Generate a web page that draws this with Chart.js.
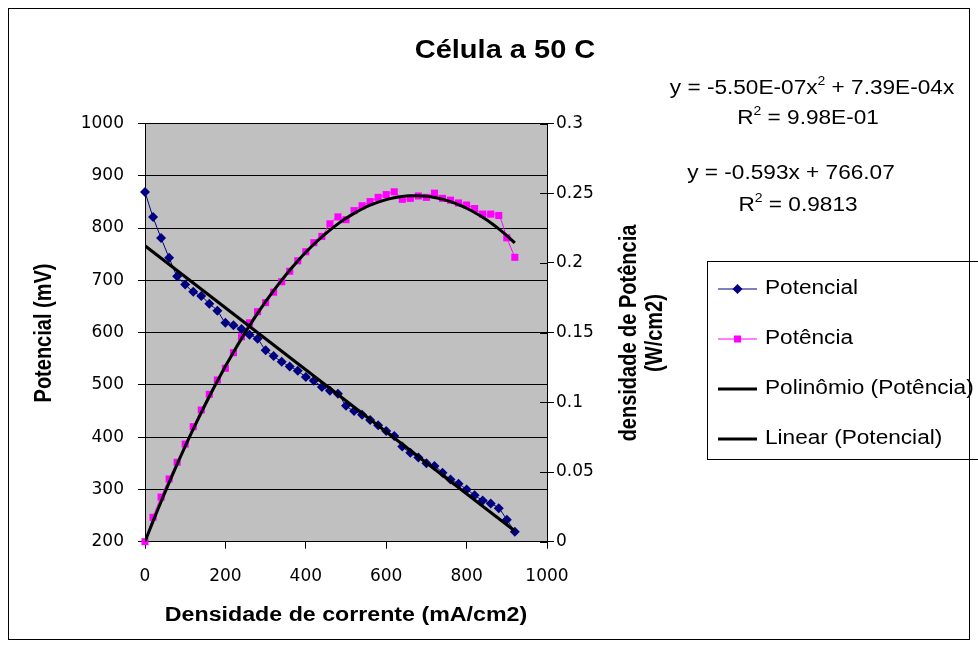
<!DOCTYPE html>
<html>
<head>
<meta charset="utf-8">
<title>Célula a 50 C</title>
<style>
  body { margin: 0; background: #fff; }
  canvas { display: block; }
</style>
<script src="https://cdn.jsdelivr.net/npm/chart.js@4"></script>
</head>
<body>
<canvas id="cellChart" width="978" height="648"></canvas>
<script>
// current density (mA/cm2)
const corrente = [0, 20, 40, 60, 80, 100, 120, 140, 160, 180, 200, 220, 240, 260, 280, 300,
  320, 340, 360, 380, 400, 420, 440, 460, 480, 500, 520, 540, 560, 580, 600, 620, 640, 660,
  680, 700, 720, 740, 760, 780, 800, 820, 840, 860, 880, 900, 920];
// cell potential (mV), left axis
const potencial = [869, 821, 781, 743, 708, 692, 678, 670, 655, 642, 619, 614, 607, 596, 588, 566,
  555, 544, 535, 527, 515, 508, 496, 489, 483, 460, 450, 443, 433, 423, 412, 402, 382, 370,
  361, 350, 345, 332, 319, 311, 300, 289, 279, 273, 264, 242, 219];
// power density (W/cm2), right axis
const potencia = [0, 0.0175, 0.032, 0.045, 0.057, 0.070, 0.0825, 0.0945, 0.1057, 0.116, 0.1244,
  0.1356, 0.147, 0.157, 0.165, 0.1715, 0.179, 0.1865, 0.194, 0.2015, 0.208, 0.2145, 0.219,
  0.228, 0.233, 0.231, 0.2375, 0.241, 0.244, 0.247, 0.249, 0.251, 0.2456, 0.2463, 0.248,
  0.247, 0.250, 0.2463, 0.245, 0.243, 0.2415, 0.239, 0.235, 0.235, 0.234, 0.218, 0.204];

// trendlines, coefficients as printed on the chart
const polyA = -5.50e-7, polyB = 7.39e-4;
const linM = -0.593, linB = 766.07;

const FONT = '"Liberation Sans", Arial, sans-serif';
const SX = 1.16; // source picture is a bit stretched sideways

const pts = (xs, ys) => xs.map((x, i) => ({ x: x, y: ys[i] }));
const polyTrend = corrente.map(x => ({ x: x, y: polyA * x * x + polyB * x }));
const linTrend = [0, corrente[corrente.length - 1]].map(x => ({ x: x, y: linM * x + linB }));

// horizontal text made of runs, [text, superscript?], centred on cx
function runs(ctx, parts, cx, cy, size, bold, align) {
  ctx.save();
  ctx.translate(cx, cy);
  ctx.scale(SX, 1);
  ctx.fillStyle = '#000';
  ctx.textBaseline = 'middle';
  ctx.textAlign = 'left';
  const f = p => (bold ? 'bold ' : '') + (p[1] ? size * 0.62 : size) + 'px ' + FONT;
  let w = 0;
  parts.forEach(p => { ctx.font = f(p); w += ctx.measureText(p[0]).width; });
  let x = align === 'left' ? 0 : -w / 2;
  parts.forEach(p => {
    ctx.font = f(p);
    ctx.fillText(p[0], x, p[1] ? -size * 0.36 : 0);
    x += ctx.measureText(p[0]).width;
  });
  ctx.restore();
}

function vtext(ctx, s, cx, cy, size) {
  ctx.save();
  ctx.translate(cx, cy);
  ctx.rotate(-Math.PI / 2);
  ctx.scale(1, SX);
  ctx.fillStyle = '#000';
  ctx.font = 'bold ' + size + 'px ' + FONT;
  ctx.textAlign = 'center';
  ctx.textBaseline = 'middle';
  ctx.fillText(s, 0, 0);
  ctx.restore();
}

const decor = {
  id: 'decor',
  beforeDraw(chart) {
    const { ctx, chartArea: a } = chart;
    ctx.save();
    ctx.fillStyle = '#fff';
    ctx.fillRect(0, 0, chart.width, chart.height);
    ctx.fillStyle = '#C0C0C0';
    ctx.fillRect(a.left, a.top, a.right - a.left, a.bottom - a.top);
    ctx.restore();
  },
  afterDraw(chart) {
    const { ctx, chartArea: a } = chart;
    ctx.save();
    // outer frame
    ctx.strokeStyle = '#000';
    ctx.lineWidth = 1;
    ctx.strokeRect(8.5, 8.5, 961, 631);
    // inner half of the cross ticks on the right axis
    const y2 = chart.scales.y2;
    ctx.beginPath();
    y2.ticks.forEach(t => {
      const py = Math.round(y2.getPixelForValue(t.value)) + 0.5;
      ctx.moveTo(a.right - 7, py);
      ctx.lineTo(a.right, py);
    });
    ctx.stroke();
    ctx.restore();

    runs(ctx, [['Célula a 50 C']], 505, 51, 25, true);
    vtext(ctx, 'Potencial (mV)', 45, 333, 20);
    runs(ctx, [['Densidade de corrente (mA/cm2)']], (a.left + a.right) / 2, 615, 20, true);
    vtext(ctx, 'densidade de Potência', 630, 333, 20);
    vtext(ctx, '(W/cm2)', 656, 333, 20);

    // trendline equations
    runs(ctx, [['y = -5.50E-07x'], ['2', 1], [' + 7.39E-04x']], 812, 89, 19.5);
    runs(ctx, [['R'], ['2', 1], [' = 9.98E-01']], 808, 119, 19.5);
    runs(ctx, [['y = -0.593x + 766.07']], 791, 174, 19.5);
    runs(ctx, [['R'], ['2', 1], [' = 0.9813']], 798, 206, 19.5);

    // legend
    ctx.save();
    ctx.strokeStyle = '#000';
    ctx.lineWidth = 1;
    ctx.strokeRect(707.5, 261.5, 290, 198);
    const items = [
      { label: 'Potencial', color: '#000080', width: 1, marker: 'diamond' },
      { label: 'Potência', color: '#FF00FF', width: 1, marker: 'square' },
      { label: 'Polinômio (Potência)', color: '#000', width: 3 },
      { label: 'Linear (Potencial)', color: '#000', width: 3 }
    ];
    items.forEach((it, i) => {
      const y = 289 + i * 50;
      ctx.strokeStyle = it.color;
      ctx.fillStyle = it.color;
      ctx.lineWidth = it.width;
      ctx.beginPath();
      ctx.moveTo(718, y);
      ctx.lineTo(757, y);
      ctx.stroke();
      if (it.marker === 'diamond') {
        ctx.beginPath();
        ctx.moveTo(737.5, y - 5); ctx.lineTo(742.5, y); ctx.lineTo(737.5, y + 5); ctx.lineTo(732.5, y);
        ctx.closePath();
        ctx.fill();
      } else if (it.marker === 'square') {
        ctx.fillRect(734, y - 3.5, 7, 7);
      }
      runs(ctx, [[it.label]], 765, y, 19.5, false, 'left');
    });
    ctx.restore();
  }
};

Chart.defaults.color = '#000';

const tickFont = { family: '"DejaVu Sans", sans-serif', size: 17 };
const plain = v => String(+(+v).toFixed(2));

new Chart(document.getElementById('cellChart'), {
  type: 'scatter',
  data: {
    datasets: [
      {
        label: 'Polinômio (Potência)',
        data: polyTrend,
        yAxisID: 'y2',
        showLine: true,
        borderColor: '#000',
        borderWidth: 3,
        pointRadius: 0,
        tension: 0.3,
        order: 0
      },
      {
        label: 'Linear (Potencial)',
        data: linTrend,
        yAxisID: 'y',
        showLine: true,
        borderColor: '#000',
        borderWidth: 3,
        pointRadius: 0,
        order: 0
      },
      {
        label: 'Potencial',
        data: pts(corrente, potencial),
        yAxisID: 'y',
        showLine: true,
        borderColor: '#000080',
        backgroundColor: '#000080',
        borderWidth: 1,
        pointStyle: 'rectRot',
        pointRadius: 5,
        pointBorderWidth: 0,
        tension: 0.3,
        clip: false,
        order: 1
      },
      {
        label: 'Potência',
        data: pts(corrente, potencia),
        yAxisID: 'y2',
        showLine: true,
        borderColor: '#FF00FF',
        backgroundColor: '#FF00FF',
        borderWidth: 1,
        pointStyle: 'rect',
        pointRadius: 5,
        pointBorderWidth: 0,
        tension: 0.3,
        clip: false,
        order: 1
      }
    ]
  },
  options: {
    responsive: false,
    animation: false,
    layout: { padding: { left: 0, top: 123.5, right: 371, bottom: 46.3 } },
    plugins: {
      legend: { display: false },
      tooltip: { enabled: false }
    },
    scales: {
      x: {
        type: 'linear',
        min: 0,
        max: 1000,
        afterFit: s => { s.height = 60; },
        ticks: { stepSize: 200, padding: 18, maxRotation: 0, font: tickFont, color: '#000', callback: plain },
        grid: { drawOnChartArea: false, tickLength: 7, color: '#000' },
        border: { color: '#000' }
      },
      y: {
        position: 'left',
        min: 200,
        max: 1000,
        afterFit: s => { s.width = 145; },
        ticks: { stepSize: 100, padding: 14, font: tickFont, color: '#000', callback: plain },
        grid: { color: '#000', tickLength: 7 },
        border: { color: '#000' }
      },
      y2: {
        position: 'right',
        min: 0,
        max: 0.3,
        afterFit: s => { s.width = 60; },
        ticks: { stepSize: 0.05, padding: 2, font: tickFont, color: '#000', callback: plain },
        grid: { drawOnChartArea: false, color: '#000', tickLength: 7 },
        border: { color: '#000' }
      }
    }
  },
  plugins: [decor]
});
</script>
</body>
</html>
